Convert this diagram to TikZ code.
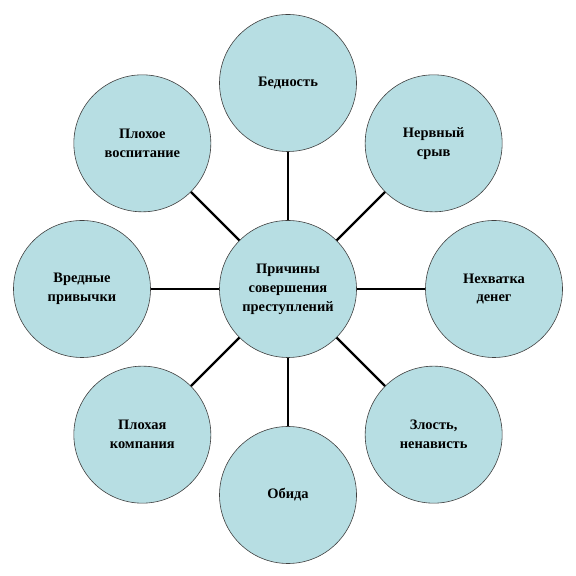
\documentclass[tikz,border=0pt]{standalone}
\usepackage{fontspec}
\setmainfont{Liberation Serif}
\usetikzlibrary{calc}
\begin{document}
\begin{tikzpicture}[x=1bp,y=1bp,
  bub/.style={circle,draw=black!75,line width=0.6bp,fill=circfill,minimum size=137bp,inner sep=0pt,
    align=center,font=\bfseries\fontsize{14.5}{19}\selectfont},
  link/.style={line width=2.3bp,black}]
\definecolor{circfill}{HTML}{B7DEE3}
\useasboundingbox (0,0) rectangle (576,576);
\node[bub] (c) at (288,287) {Причины\\совершения\\преступлений};
\node[bub] (n1) at ($(c)+(90:206)$) {Бедность};
\node[bub] (n2) at ($(c)+(45:206)$) {Нервный\\срыв};
\node[bub] (n3) at ($(c)+(0:206)$) {Нехватка\\денег};
\node[bub] (n4) at ($(c)+(-45:206)$) {Злость,\\ненависть};
\node[bub] (n5) at ($(c)+(-90:206)$) {Обида};
\node[bub] (n6) at ($(c)+(-135:206)$) {Плохая\\компания};
\node[bub] (n7) at ($(c)+(180:206)$) {Вредные\\привычки};
\node[bub] (n8) at ($(c)+(135:206)$) {Плохое\\воспитание};
\foreach \i in {1,...,8} {\draw[link] (c) -- (n\i);}
\end{tikzpicture}
\end{document}
